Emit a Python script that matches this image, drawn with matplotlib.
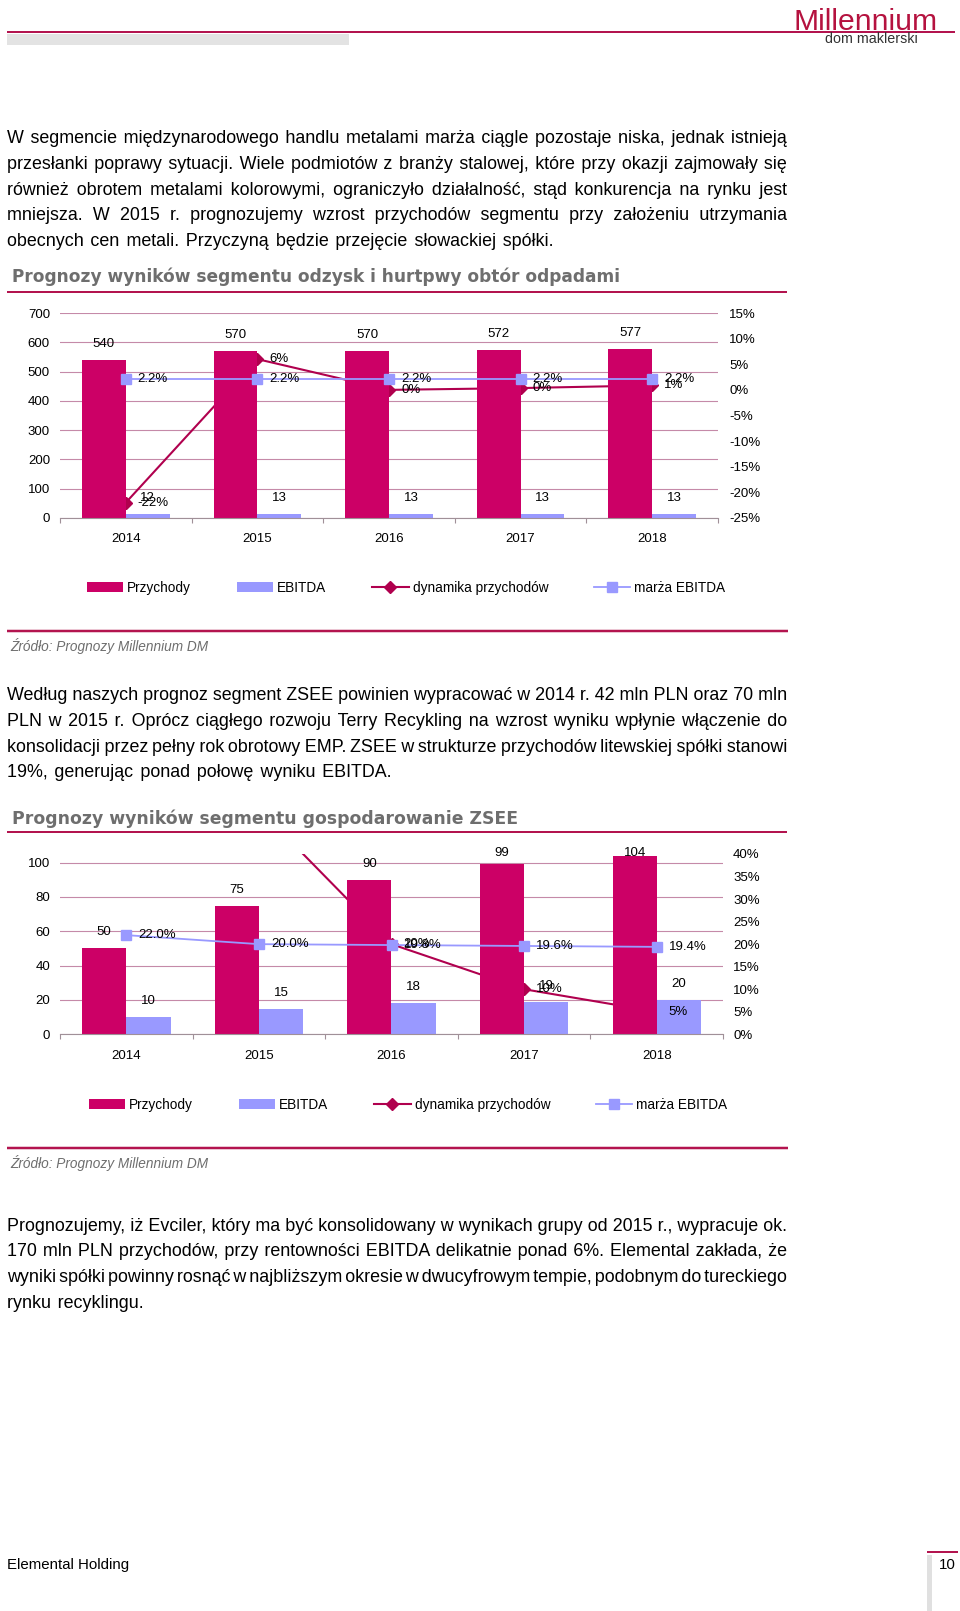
import numpy as np
import matplotlib
matplotlib.use('Agg')
import matplotlib.pyplot as plt
from matplotlib.lines import Line2D
from matplotlib.patches import Rectangle

plt.rcParams['font.family'] = ['Liberation Sans', 'DejaVu Sans']

# ---------------- data ----------------
years = ['2014', '2015', '2016', '2017', '2018']

rev1 = [540, 570, 570, 572, 577]
ebitda1 = [12, 13, 13, 13, 13]
growth1 = [-0.22, 0.06, 0.0, 0.0035, 0.0087]
margin1 = [0.022, 0.022, 0.022, 0.022, 0.022]

rev2 = [50, 75, 90, 99, 104]
ebitda2 = [10, 15, 18, 19, 20]
growth2 = [np.nan, 0.50, 0.20, 0.10, 0.05]
margin2 = [0.220, 0.200, 0.198, 0.196, 0.194]

legend_labels = ['Przychody', 'EBITDA', 'dynamika przychodów', 'marża EBITDA']

title1 = 'Prognozy wyników segmentu odzysk i hurtpwy obtór odpadami'
title2 = 'Prognozy wyników segmentu gospodarowanie ZSEE'
source = 'Źródło: Prognozy Millennium DM'

para1 = [
    'W segmencie międzynarodowego handlu metalami marża ciągle pozostaje niska, jednak istnieją',
    'przesłanki poprawy sytuacji. Wiele podmiotów z branży stalowej, które przy okazji zajmowały się',
    'również obrotem metalami kolorowymi, ograniczyło działalność, stąd konkurencja na rynku jest',
    'mniejsza. W 2015 r. prognozujemy wzrost przychodów segmentu przy założeniu utrzymania',
    'obecnych cen metali. Przyczyną będzie przejęcie słowackiej spółki.',
]
para2 = [
    'Według naszych prognoz segment ZSEE powinien wypracować w 2014 r. 42 mln PLN oraz 70 mln',
    'PLN w 2015 r. Oprócz ciągłego rozwoju Terry Recykling na wzrost wyniku wpłynie włączenie do',
    'konsolidacji przez pełny rok obrotowy EMP. ZSEE w strukturze przychodów litewskiej spółki stanowi',
    '19%, generując ponad połowę wyniku EBITDA.',
]
para3 = [
    'Prognozujemy, iż Evciler, który ma być konsolidowany w wynikach grupy od 2015 r., wypracuje ok.',
    '170 mln PLN przychodów, przy rentowności EBITDA delikatnie ponad 6%. Elemental zakłada, że',
    'wyniki spółki powinny rosnąć w najbliższym okresie w dwucyfrowym tempie, podobnym do tureckiego',
    'rynku recyklingu.',
]

# ---------------- styling ----------------
C_REV = '#CC0066'
C_EB = '#9999FF'
C_GR = '#B0004E'
C_GRID = '#C58AA8'
C_AXIS = '#A09098'
C_RED = '#B3144F'
C_TITLE = '#6E6E6E'
FS = 9.5

W, H = 960, 1611
fig = plt.figure(figsize=(W / 100, H / 100), dpi=100)
renderer = fig.canvas.get_renderer()


def fx(x):
    return x / W


def fy(y):
    return 1 - y / H


def hline(x0, x1, y, lw_px, color):
    fig.add_artist(Line2D([fx(x0), fx(x1)], [fy(y), fy(y)], transform=fig.transFigure,
                          color=color, lw=lw_px * 0.72, solid_capstyle='butt'))


def rect(x0, y0, x1, y1, color):
    fig.add_artist(Rectangle((fx(x0), fy(y1)), (x1 - x0) / W, (y1 - y0) / H,
                             transform=fig.transFigure, color=color, lw=0))


def text_width(s, **kw):
    t = fig.text(0, 0, s, **kw)
    w = t.get_window_extent(renderer).width
    t.remove()
    return w


def fit_text(s, x0, width, baseline, size0=20, **kw):
    w = text_width(s, fontsize=size0, **kw)
    size = size0 * width / w
    fig.text(fx(x0), fy(baseline), s, fontsize=size, va='baseline', ha='left', **kw)


BODY = dict(fontsize=12.85, color='black', family=['Liberation Sans', 'DejaVu Sans'])
SP, THIN, HAIR = ' ', '\u2009', '\u200a'


def paragraph(lines, centers, x0=7, x1=787):
    base = text_width('aa', **BODY)
    w_sp = text_width('a a', **BODY) - base
    w_thin = text_width('a' + THIN + 'a', **BODY) - base
    w_hair = text_width('a' + HAIR + 'a', **BODY) - base
    combos = []
    for s in (0, 1):
        for t in range(0, 5):
            for h in range(0, 9):
                if s + t + h >= 1:
                    combos.append((s * w_sp + t * w_thin + h * w_hair, SP * s + THIN * t + HAIR * h))
    for i, (line, yc) in enumerate(zip(lines, centers)):
        words = line.split(' ')
        n = len(words) - 1
        natural = text_width(line, **BODY) - n * w_sp
        last = i == len(lines) - 1
        total_gap = n * (w_sp + 1.9) if last else (x1 - x0 - natural)
        out = words[0]
        acc = 0.0
        for k in range(n):
            need = total_gap * (k + 1) / n - acc
            wdt, s = min(combos, key=lambda c: abs(c[0] - need))
            acc += wdt
            out += s + words[k + 1]
        fig.text(fx(x0), fy(yc + 5.5), out, va='baseline', ha='left', **BODY)


def chart(rect_px, rev, ebitda, growth, margin, ylim_l, yticks_l, ylim_r, yticks_r,
          margin_fmt, r_pad, x_pad, top_clamp):
    left, top, right, bottom = rect_px
    ax = fig.add_axes([fx(left), fy(bottom), (right - left) / W, (bottom - top) / H])
    ax2 = ax.twinx()
    x = np.arange(len(years))
    ax2.set_ylim(*ylim_r)
    b1 = ax.bar(x - 1 / 6, rev, width=1 / 3, color=C_REV, zorder=2, label=legend_labels[0])
    b2 = ax.bar(x + 1 / 6, ebitda, width=1 / 3, color=C_EB, zorder=2, label=legend_labels[1])
    l1, = ax.plot(x, growth, transform=ax2.transData, color=C_GR, lw=1.5, marker='D', ms=6,
                  zorder=1.5, label=legend_labels[2])
    l2, = ax.plot(x, margin, transform=ax2.transData, color=C_EB, lw=1.3, marker='s', ms=6.5,
                  zorder=3, label=legend_labels[3])
    ax.set_xlim(-0.5, len(years) - 0.5)
    ax.set_ylim(*ylim_l)
    ax2.set_ylim(*ylim_r)

    ax.set_yticks(yticks_l)
    ax.tick_params(axis='y', length=0, pad=7.2, labelsize=FS)
    ax2.set_yticks(yticks_r)
    ax2.set_yticklabels([f'{int(round(t * 100))}%' for t in yticks_r])
    ax2.tick_params(axis='y', length=0, pad=r_pad, labelsize=FS)
    ax.set_xticks(x, years)
    ax.tick_params(axis='x', which='major', length=0, pad=x_pad, labelsize=FS)
    ax.set_xticks(np.arange(-0.5, len(years)), minor=True)
    ax.tick_params(axis='x', which='minor', length=3.6, width=0.8, color=C_AXIS, direction='out')
    for a in (ax, ax2):
        for s in ('top', 'left', 'right', 'bottom'):
            a.spines[s].set_visible(False)
    ax.spines['bottom'].set_visible(True)
    ax.spines['bottom'].set_color(C_AXIS)
    ax.spines['bottom'].set_linewidth(0.8)
    ax.yaxis.grid(True, color=C_GRID, lw=0.8)
    ax.set_axisbelow(True)

    clamp_disp = H - top_clamp
    for xi, v in zip(x, rev):
        yd = ax.transData.transform((xi, v))[1]
        off = min(16, clamp_disp - yd)
        ax.annotate(f'{v}', (xi - 1 / 6, v), xytext=(0, off), textcoords='offset pixels',
                    ha='center', va='center', fontsize=FS, zorder=6)
    for xi, v in zip(x, ebitda):
        ax.annotate(f'{v}', (xi + 1 / 6, v), xytext=(0, 16), textcoords='offset pixels',
                    ha='center', va='center', fontsize=FS, zorder=6)
    for xi, v in zip(x, margin):
        ax.annotate(margin_fmt.format(v * 100), (xi, v), xycoords=ax2.transData,
                    xytext=(12, 0), textcoords='offset pixels', ha='left', va='center',
                    fontsize=FS, zorder=6, annotation_clip=True)
    for xi, v in zip(x, growth):
        if np.isnan(v):
            continue
        ax.annotate(f'{v * 100:.0f}%', (xi, v), xycoords=ax2.transData,
                    xytext=(12, 0), textcoords='offset pixels', ha='left', va='center',
                    fontsize=FS, zorder=6, annotation_clip=True)
    return [b1, b2, l1, l2]


def legend(handles, x0, yc):
    fig.legend(handles=handles, loc='center left', bbox_to_anchor=(fx(x0), fy(yc)),
               ncol=4, frameon=False, fontsize=9.8, handlelength=2.65, handletextpad=0.3,
               columnspacing=3.38, numpoints=1, borderpad=0, borderaxespad=0)


# ---------------- header ----------------
hline(7, 955, 32, 2, C_RED)
rect(7, 34, 349, 45, '#E3E3E3')
fit_text('Millennium', 793, 144, 29.5, color='#B5123F')
fit_text('dom maklerski', 825, 92, 42.7, color='#333333')

# ---------------- paragraph 1 ----------------
paragraph(para1, [137.7, 163.4, 189.1, 214.8, 240.5])

# ---------------- chart 1 ----------------
fit_text(title1, 12, 608, 282.5, size0=12, color=C_TITLE, fontweight='bold', family='DejaVu Sans')
hline(7, 787, 292, 2, C_RED)
h1 = chart((60, 313, 718, 518), rev1, ebitda1, growth1, margin1, (0, 700), np.arange(0, 701, 100),
           (-0.25, 0.15), np.round(np.arange(-0.25, 0.151, 0.05), 2), '{:.1f}%', 8, 11, 300)
legend(h1, 87, 588)
hline(7, 788, 631, 2.5, C_RED)
fig.text(fx(10), fy(651), source, fontsize=9.8, style='italic', color='#6E6E6E', va='baseline')

# ---------------- paragraph 2 ----------------
paragraph(para2, [694.8, 720.5, 746.2, 771.9])

# ---------------- chart 2 ----------------
fit_text(title2, 12, 502, 823.5, size0=12, color=C_TITLE, fontweight='bold', family='DejaVu Sans')
hline(7, 787, 832, 2, C_RED)
h2 = chart((60, 854, 723, 1034.3), rev2, ebitda2, growth2, margin2, (0, 105), np.arange(0, 101, 20),
           (0, 0.40), np.round(np.arange(0, 0.401, 0.05), 2), '{:.1f}%', 7.2, 11.5, 853)
legend(h2, 89, 1105)
hline(7, 788, 1148, 2.5, C_RED)
fig.text(fx(10), fy(1168), source, fontsize=9.8, style='italic', color='#6E6E6E', va='baseline')

# ---------------- paragraph 3 ----------------
paragraph(para3, [1225.1, 1250.8, 1276.5, 1302.2])

# ---------------- footer ----------------
fig.text(fx(7), fy(1565), 'Elemental Holding', fontsize=10.8, va='center', ha='left')
fig.text(fx(956), fy(1565), '10', fontsize=10.8, va='center', ha='right')
hline(927, 958, 1552, 2, C_RED)
rect(927, 1555, 932, 1611, '#E0E0E0')

fig.savefig('out.png', dpi=100)
